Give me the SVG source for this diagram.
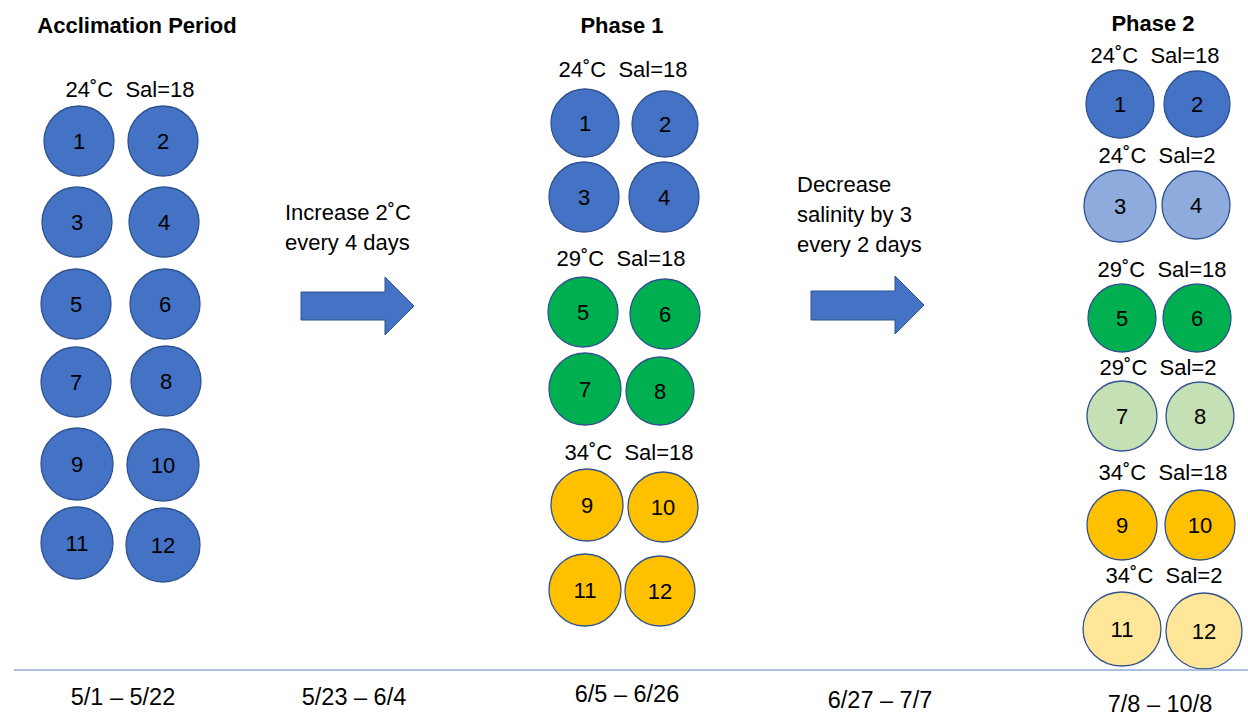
<svg xmlns="http://www.w3.org/2000/svg" width="1248" height="717" viewBox="0 0 1248 717">
<style>
text{font-family:"Liberation Sans",Arial,sans-serif;font-size:22px;fill:#000;white-space:pre}
.t{font-weight:bold;text-anchor:middle}
.c{text-anchor:middle}
.d{text-anchor:middle;font-size:23.5px}
.n{text-anchor:middle}
circle,ellipse{stroke:#2F528F;stroke-width:1.3}
.b{fill:#4472C4}.lb{fill:#8FAADC}.g{fill:#00B050}.lg{fill:#C5E0B4}.o{fill:#FFC000}.y{fill:#FFE699}
.arr{fill:#4472C4;stroke:#2F528F;stroke-width:1}
</style>
<rect width="1248" height="717" fill="#fff"/>

<g id="acclimation">
<text class="t" x="137" y="33">Acclimation Period</text>
<text class="c" x="130" y="97">24˚C  Sal=18</text>
<g id="a1"><circle class="b" cx="79" cy="141" r="35"/><text class="n" x="79" y="149">1</text></g>
<g id="a2"><circle class="b" cx="163" cy="141" r="35"/><text class="n" x="163" y="149">2</text></g>
<g id="a3"><circle class="b" cx="77" cy="222" r="35"/><text class="n" x="77" y="230">3</text></g>
<g id="a4"><circle class="b" cx="164" cy="222" r="35"/><text class="n" x="164" y="230">4</text></g>
<g id="a5"><circle class="b" cx="76" cy="304" r="35"/><text class="n" x="76" y="312">5</text></g>
<g id="a6"><circle class="b" cx="165" cy="304" r="35"/><text class="n" x="165" y="312">6</text></g>
<g id="a7"><circle class="b" cx="76" cy="382" r="35"/><text class="n" x="76" y="390">7</text></g>
<g id="a8"><circle class="b" cx="166" cy="381" r="35"/><text class="n" x="166" y="389">8</text></g>
<g id="a9"><circle class="b" cx="77" cy="464" r="36"/><text class="n" x="77" y="472">9</text></g>
<g id="a10"><circle class="b" cx="163" cy="465" r="36"/><text class="n" x="163" y="473">10</text></g>
<g id="a11"><circle class="b" cx="77" cy="543" r="36"/><text class="n" x="77" y="551">11</text></g>
<g id="a12"><circle class="b" cx="163" cy="545" r="37"/><text class="n" x="163" y="553">12</text></g>
</g>

<g id="phase1">
<text class="t" x="622" y="33">Phase 1</text>
<text class="c" x="623" y="77">24˚C  Sal=18</text>
<text class="c" x="621" y="266">29˚C  Sal=18</text>
<text class="c" x="629" y="460">34˚C  Sal=18</text>
<g id="p1-1"><circle class="b" cx="585" cy="123" r="34"/><text class="n" x="585" y="131">1</text></g>
<g id="p1-2"><circle class="b" cx="665" cy="124" r="33"/><text class="n" x="665" y="132">2</text></g>
<g id="p1-3"><circle class="b" cx="584" cy="197" r="35"/><text class="n" x="584" y="205">3</text></g>
<g id="p1-4"><circle class="b" cx="664" cy="197" r="35"/><text class="n" x="664" y="205">4</text></g>
<g id="p1-5"><circle class="g" cx="583" cy="312" r="35"/><text class="n" x="583" y="320">5</text></g>
<g id="p1-6"><circle class="g" cx="665" cy="314" r="35"/><text class="n" x="665" y="322">6</text></g>
<g id="p1-7"><circle class="g" cx="585" cy="389" r="36"/><text class="n" x="585" y="397">7</text></g>
<g id="p1-8"><circle class="g" cx="660" cy="391" r="34"/><text class="n" x="660" y="399">8</text></g>
<g id="p1-9"><circle class="o" cx="587" cy="505" r="36"/><text class="n" x="587" y="513">9</text></g>
<g id="p1-10"><circle class="o" cx="663" cy="507" r="35"/><text class="n" x="663" y="515">10</text></g>
<g id="p1-11"><circle class="o" cx="585" cy="590" r="36"/><text class="n" x="585" y="598">11</text></g>
<g id="p1-12"><circle class="o" cx="660" cy="591" r="35"/><text class="n" x="660" y="599">12</text></g>
</g>

<g id="phase2">
<text class="t" x="1153" y="31">Phase 2</text>
<text class="c" x="1155" y="63">24˚C  Sal=18</text>
<text class="c" x="1157" y="163">24˚C  Sal=2</text>
<text class="c" x="1162" y="277">29˚C  Sal=18</text>
<text class="c" x="1158" y="375">29˚C  Sal=2</text>
<text class="c" x="1163" y="480">34˚C  Sal=18</text>
<text class="c" x="1164" y="583">34˚C  Sal=2</text>
<g id="p2-1"><circle class="b" cx="1120" cy="104" r="34"/><text class="n" x="1120" y="112">1</text></g>
<g id="p2-2"><circle class="b" cx="1197" cy="104" r="33"/><text class="n" x="1197" y="112">2</text></g>
<g id="p2-3"><circle class="lb" cx="1120" cy="206" r="36"/><text class="n" x="1120" y="214">3</text></g>
<g id="p2-4"><circle class="lb" cx="1196" cy="205" r="34"/><text class="n" x="1196" y="213">4</text></g>
<g id="p2-5"><circle class="g" cx="1122" cy="318" r="34"/><text class="n" x="1122" y="326">5</text></g>
<g id="p2-6"><circle class="g" cx="1197" cy="318" r="34"/><text class="n" x="1197" y="326">6</text></g>
<g id="p2-7"><circle class="lg" cx="1122" cy="416" r="35"/><text class="n" x="1122" y="424">7</text></g>
<g id="p2-8"><circle class="lg" cx="1200" cy="416" r="34"/><text class="n" x="1200" y="424">8</text></g>
<g id="p2-9"><circle class="o" cx="1122" cy="525" r="35"/><text class="n" x="1122" y="533">9</text></g>
<g id="p2-10"><circle class="o" cx="1200" cy="525" r="35"/><text class="n" x="1200" y="533">10</text></g>
<g id="p2-11"><ellipse class="y" cx="1122" cy="629" rx="39" ry="37"/><text class="n" x="1122" y="637">11</text></g>
<g id="p2-12"><ellipse class="y" cx="1204" cy="631" rx="38" ry="38"/><text class="n" x="1204" y="639">12</text></g>
</g>

<g id="connectors">
<g id="arrow1">
<text x="285" y="220">Increase 2˚C</text>
<text x="285" y="250">every 4 days</text>
<polygon class="arr" points="301,292 385,292 385,277 414,306 385,335 385,320 301,320"/>
</g>
<g id="arrow2">
<text x="797" y="192">Decrease</text>
<text x="797" y="222">salinity by 3</text>
<text x="797" y="252">every 2 days</text>
<polygon class="arr" points="811,291 895,291 895,276 924,305 895,334 895,320 811,320"/>
</g>
</g>

<g id="timeline">
<line x1="14" y1="670" x2="1248" y2="670" stroke="#8FAADC" stroke-width="1.5"/>
<text class="d" x="123" y="705">5/1 – 5/22</text>
<text class="d" x="354" y="705">5/23 – 6/4</text>
<text class="d" x="627" y="702">6/5 – 6/26</text>
<text class="d" x="880" y="708">6/27 – 7/7</text>
<text class="d" x="1160" y="712">7/8 – 10/8</text>
</g>
</svg>
